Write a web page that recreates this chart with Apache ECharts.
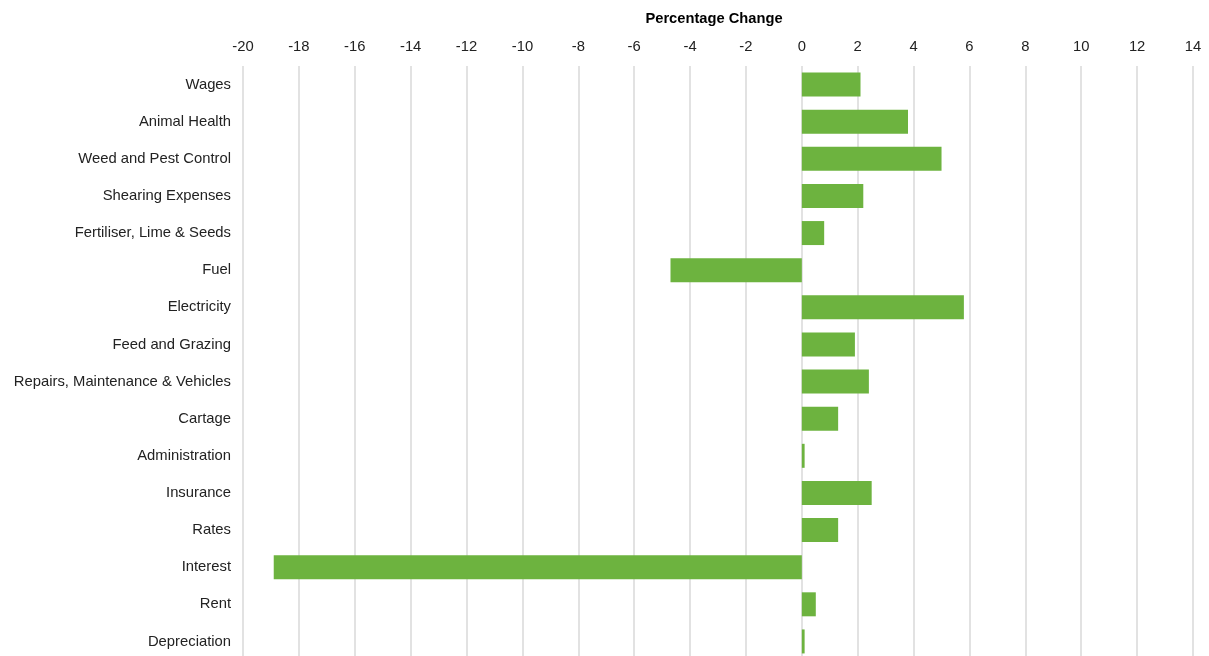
<!DOCTYPE html>
<html>
<head>
<meta charset="utf-8">
<script src="https://cdn.jsdelivr.net/npm/echarts@6/dist/echarts.min.js"></script>
<style>html,body{margin:0;padding:0;background:#fff;overflow:hidden;}#c{width:1209px;height:670px;}</style>
</head>
<body>
<div id="c"></div>
<script>
const categories = ["Wages","Animal Health","Weed and Pest Control","Shearing Expenses","Fertiliser, Lime & Seeds","Fuel","Electricity","Feed and Grazing","Repairs, Maintenance & Vehicles","Cartage","Administration","Insurance","Rates","Interest","Rent","Depreciation"];
const values = [2.1,3.8,5.0,2.2,0.8,-4.7,5.8,1.9,2.4,1.3,0.1,2.5,1.3,-18.9,0.5,0.1];
const axisName = "Percentage Change";

const chart = echarts.init(document.getElementById('c'), null, {renderer:'canvas'});
chart.setOption({
  animation:false,
  textStyle:{fontFamily:'Liberation Sans, Arial, sans-serif'},
  grid:{left:243, top:66, width:950, height:594, containLabel:false},
  xAxis:{
    type:'value', position:'top', min:-20, max:14, interval:2,
    name:axisName, nameLocation:'middle', nameGap:40,
    nameTextStyle:{fontWeight:'bold', fontSize:14.7, color:'#000', padding:[0,8,0,0]},
    axisLine:{show:false}, axisTick:{show:false},
    axisLabel:{fontSize:14.8, color:'#222', margin:12},
    splitLine:{show:true, lineStyle:{color:'#d9d9d9', width:1.5}}
  },
  yAxis:{
    type:'category', data:categories, inverse:true,
    axisLine:{show:false}, axisTick:{show:false},
    axisLabel:{fontSize:14.8, color:'#222', margin:12}
  },
  series:[{
    type:'bar', data:values, barWidth:24,
    itemStyle:{color:'#6db33f'}
  }]
});
</script>
</body>
</html>
